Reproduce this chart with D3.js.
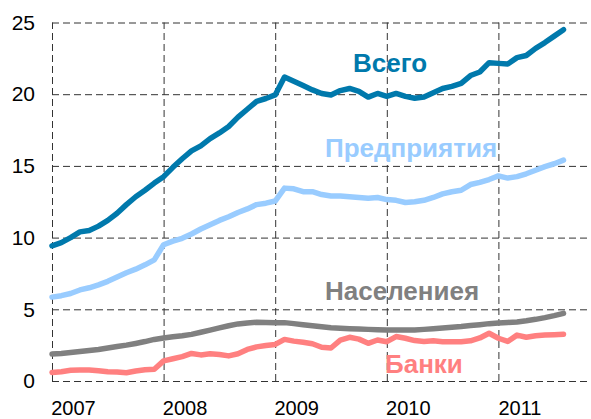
<!DOCTYPE html>
<html><head><meta charset="utf-8">
<script src="https://cdn.jsdelivr.net/npm/d3@7/dist/d3.min.js"></script>
<style>
html,body{margin:0;padding:0;background:#fff;}
svg{display:block;font-family:"Liberation Sans",Arial,sans-serif;}
</style></head>
<body>
<svg id="chart" width="591" height="419"></svg>
<script>
const yearLabels = ["2007","2008","2009","2010","2011"];
const yTicks = [0,5,10,15,20,25];
const seriesNames = ["Всего","Предприятия","Населениея","Банки"];
const total = [9.43,9.65,10.0,10.4,10.5,10.8,11.2,11.7,12.3,12.85,13.3,13.8,14.25,14.9,15.5,16.05,16.4,16.9,17.3,17.75,18.4,18.95,19.5,19.7,19.95,21.2,20.9,20.6,20.3,20.05,19.95,20.25,20.4,20.2,19.8,20.05,19.85,20.05,19.85,19.72,19.8,20.1,20.4,20.55,20.75,21.3,21.55,22.2,22.15,22.1,22.55,22.7,23.2,23.6,24.05,24.5];
const enterprises = [5.85,5.95,6.1,6.35,6.5,6.7,6.95,7.25,7.55,7.8,8.1,8.45,9.5,9.75,9.95,10.25,10.6,10.9,11.2,11.45,11.75,12.0,12.3,12.4,12.55,13.45,13.4,13.2,13.2,13.0,12.9,12.9,12.85,12.8,12.75,12.8,12.65,12.6,12.45,12.5,12.6,12.8,13.05,13.2,13.3,13.7,13.85,14.05,14.3,14.15,14.25,14.45,14.7,14.95,15.15,15.4];
const households = [1.88,1.92,1.98,2.05,2.13,2.2,2.3,2.4,2.5,2.62,2.75,2.9,3.0,3.08,3.15,3.25,3.4,3.55,3.7,3.85,3.98,4.05,4.1,4.08,4.07,4.07,4.0,3.92,3.85,3.78,3.72,3.68,3.65,3.62,3.6,3.58,3.56,3.55,3.55,3.56,3.6,3.65,3.7,3.75,3.8,3.87,3.93,4.0,4.05,4.08,4.12,4.2,4.3,4.42,4.56,4.72];
const banks = [0.6,0.65,0.75,0.77,0.77,0.72,0.65,0.63,0.58,0.7,0.78,0.82,1.4,1.55,1.7,1.92,1.82,1.9,1.85,1.75,1.9,2.2,2.38,2.48,2.55,2.9,2.78,2.7,2.6,2.35,2.3,2.85,3.05,2.92,2.63,2.86,2.74,3.1,2.98,2.82,2.76,2.8,2.74,2.74,2.74,2.8,3.0,3.33,2.98,2.76,3.2,3.05,3.15,3.2,3.23,3.26];
const colors = ["#0079AC","#99CCFF","#808080","#FF8080"];

const svg = d3.select("#chart");
const mLeft = 52, mRight = 610, mTop = 22.5, mBottom = 381;
const x = d3.scaleLinear().domain([0,60]).range([mLeft,mRight]);
const y = d3.scaleLinear().domain([0,25]).range([mBottom,mTop]);

const gy = svg.append("g").attr("transform",`translate(${mLeft},0)`)
  .call(d3.axisLeft(y).tickValues(yTicks).tickSize(-(mRight-mLeft)).tickPadding(17).tickFormat(d3.format("d")));
gy.select(".domain").remove();
gy.selectAll("line").attr("stroke","#333").attr("stroke-dasharray","7,4");
gy.selectAll("text").attr("font-size","21px").attr("fill","#000").attr("font-family","Liberation Sans, Arial, sans-serif");

const gx = svg.append("g").attr("transform",`translate(0,${mBottom})`)
  .call(d3.axisBottom(x).tickValues([0,12,24,36,48]).tickSize(-(mBottom-mTop)).tickPadding(20).tickFormat((d,i)=>yearLabels[i]));
gx.select(".domain").remove();
gx.selectAll("line").attr("stroke","#333").attr("stroke-dasharray","7,4");
gx.selectAll("text").attr("font-size","20px").attr("fill","#000").attr("dx","21").attr("font-family","Liberation Sans, Arial, sans-serif");

const line = d3.line().x((d,i)=>x(i)).y(d=>y(d));
[total,enterprises,households,banks].forEach((s,k)=>{
  svg.append("path").datum(s).attr("d",line).attr("fill","none")
    .attr("stroke",colors[k]).attr("stroke-width",5.5)
    .attr("stroke-linejoin","round").attr("stroke-linecap","round");
});

const labelPos = [[353,72],[325,157],[325,300],[385,373]];
seriesNames.forEach((n,k)=>{
  svg.append("text").attr("x",labelPos[k][0]).attr("y",labelPos[k][1])
    .attr("fill",colors[k]).attr("font-size","26px").attr("font-weight","bold").text(n);
});
</script>
</body></html>
